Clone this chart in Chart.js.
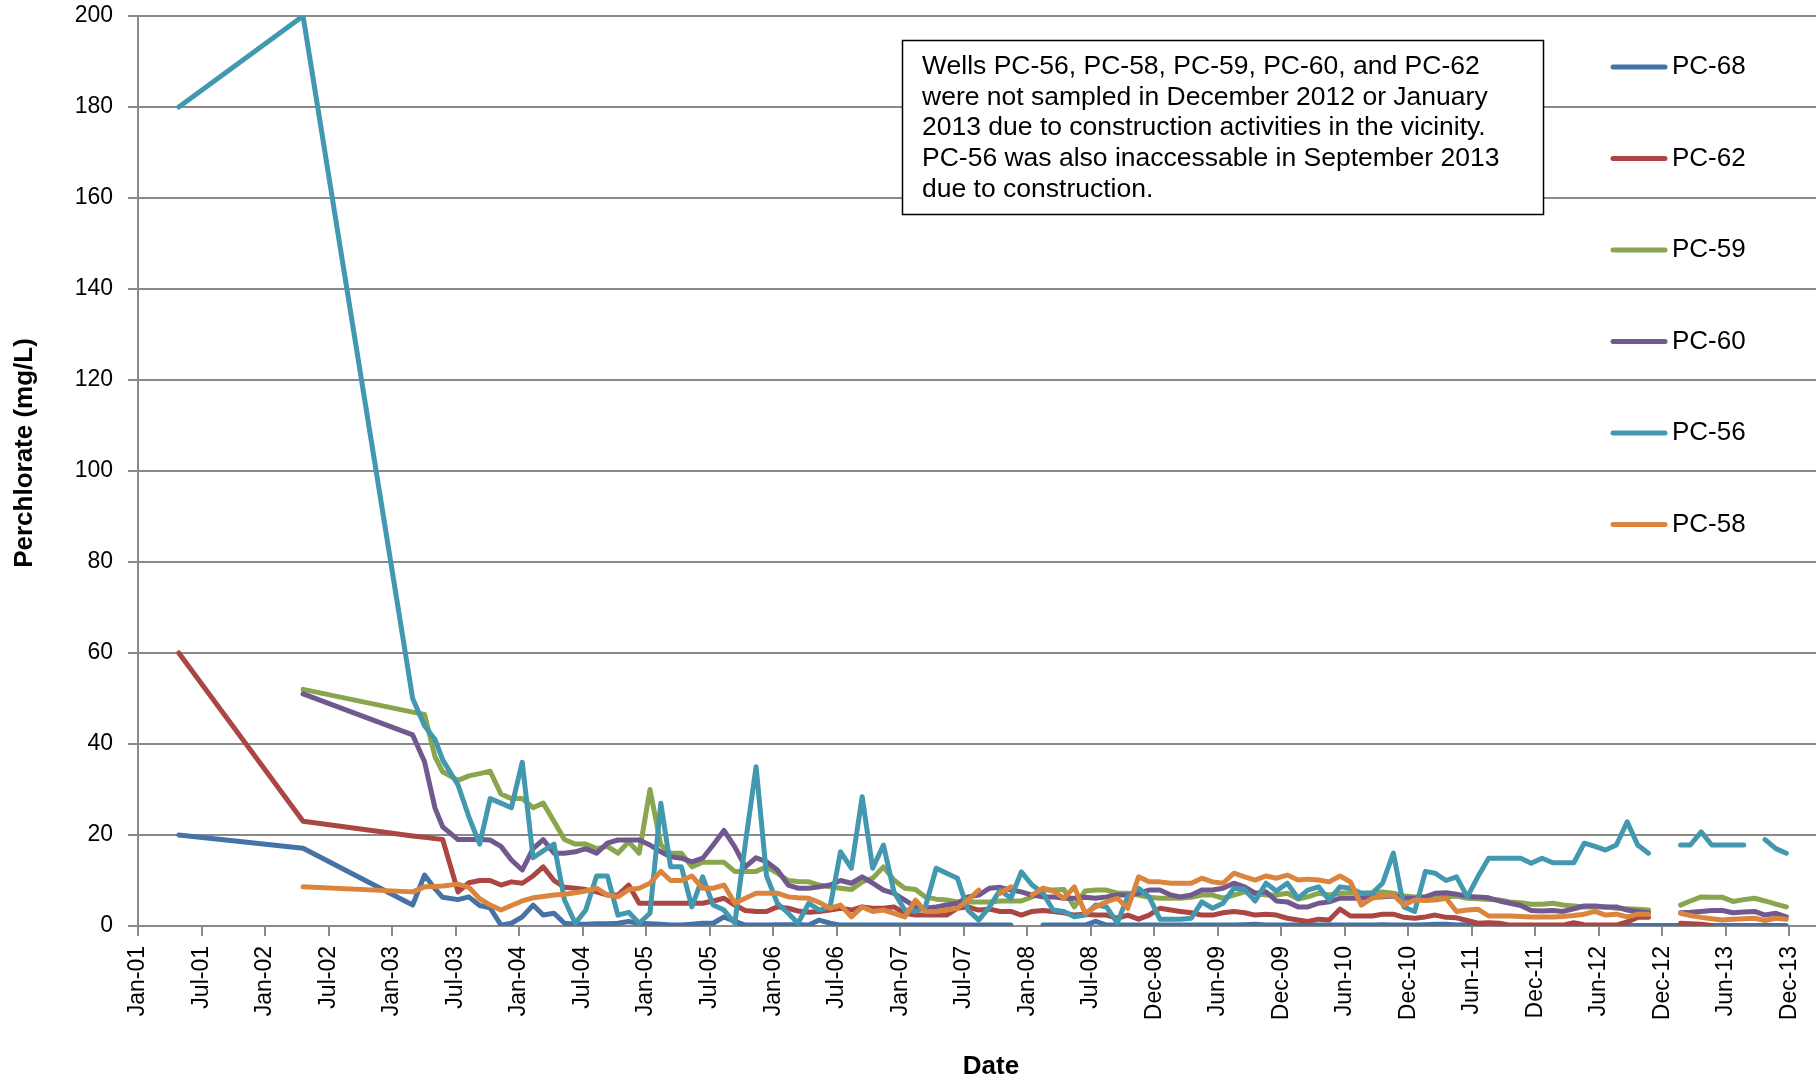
<!DOCTYPE html>
<html>
<head>
<meta charset="utf-8">
<title>Perchlorate concentrations</title>
<script src="https://cdn.jsdelivr.net/npm/chart.js@4.4.1/dist/chart.umd.min.js"></script>
<style>
  html, body { margin: 0; padding: 0; background: #fff; }
  #wrap { width: 1816px; height: 1083px; }
</style>
</head>
<body>
<div id="wrap"><canvas id="chart" width="1816" height="1083"></canvas></div>
<script>
const wells = ["PC-68", "PC-62", "PC-59", "PC-60", "PC-56", "PC-58"];
const wellColors = ["#4572A7", "#AA4643", "#89A54E", "#71588F", "#4198AF", "#DB843D"];

// sample dates: a few early samples, then monthly (YYYY-MM = mid month)
const sampleDates = [
  "2001-05-06", "2002-04-27", "2003-03-07", "2003-04-10", "2003-05-10", "2003-06-01",
  "2003-07", "2003-08", "2003-09", "2003-10", "2003-11", "2003-12",
  "2004-01", "2004-02", "2004-03", "2004-04", "2004-05", "2004-06", "2004-07", "2004-08", "2004-09", "2004-10", "2004-11", "2004-12",
  "2005-01", "2005-02", "2005-03", "2005-04", "2005-05", "2005-06", "2005-07", "2005-08", "2005-09", "2005-10", "2005-11", "2005-12",
  "2006-01", "2006-02", "2006-03", "2006-04", "2006-05", "2006-06", "2006-07", "2006-08", "2006-09", "2006-10", "2006-11", "2006-12",
  "2007-01", "2007-02", "2007-03", "2007-04", "2007-05", "2007-06", "2007-07", "2007-08", "2007-09", "2007-10", "2007-11", "2007-12",
  "2008-01", "2008-02", "2008-03", "2008-04", "2008-05", "2008-06", "2008-07", "2008-08", "2008-09", "2008-10", "2008-11", "2008-12",
  "2009-01", "2009-02", "2009-03", "2009-04", "2009-05", "2009-06", "2009-07", "2009-08", "2009-09", "2009-10", "2009-11", "2009-12",
  "2010-01", "2010-02", "2010-03", "2010-04", "2010-05", "2010-06", "2010-07", "2010-08", "2010-09", "2010-10", "2010-11", "2010-12",
  "2011-01", "2011-02", "2011-03", "2011-04", "2011-05", "2011-06", "2011-07", "2011-08", "2011-09", "2011-10", "2011-11", "2011-12",
  "2012-01", "2012-02", "2012-03", "2012-04", "2012-05", "2012-06", "2012-07", "2012-08", "2012-09", "2012-10", "2012-11", "2012-12",
  "2013-01", "2013-02", "2013-03", "2013-04", "2013-05", "2013-06", "2013-07", "2013-08", "2013-09", "2013-10", "2013-11", "2013-12"
];

// values in mg/L, one per sample date (null = not sampled)
// rows after the early samples run Jul..Jun
const pc68 = [
  20, 17.1, 4.6, 11.2, 8.2, 6.3,
  5.8, 6.4, 4.5, 4, 0.2, 0.6, 2, 4.6, 2.4, 2.8, 0.6, 0.4,
  0.4, 0.5, 0.5, 0.6, 1, 0.6, 0.5, 0.4, 0.2, 0.2, 0.4, 0.6,
  0.6, 2, 1, 0.2, 0.2, 0.2, 0.3, 0.3, 0.3, 0.2, 1.3, 0.6,
  0.2, 0.2, 0.2, 0.2, 0.2, 0.2, 0.2, 0.2, 0.2, 0.2, 0.2, 0.2,
  0.2, 0.2, 0.2, 0.2, 0.2, null, null, 0.2, 0.2, 0.2, 0.2, 0.2,
  1, 0.2, 0.2, 0.2, 0.2, 0.2, 0.2, 0.2, 0.2, 0.2, 0.2, 0.2,
  0.2, 0.2, 0.3, 0.4, 0.2, 0.2, 0.2, 0.2, 0.2, 0.2, 0.2, 0.2,
  0.2, 0.2, 0.2, 0.3, 0.2, 0.2, 0.2, 0.3, 0.4, 0.4, 0.2, 0.3,
  0.3, 0.2, 0.1, 0.1, 0.1, 0.1, 0.1, 0.1, 0.1, 0.1, 0.1, 0.1,
  0.1, 0.1, 0.1, 0.1, 0.1, 0.1, 0.1, 0.1, 0.1, 0.1, 0.1, 0.1,
  0.1, 0.1, 0.1, 0.1, 0.1, 0.1
];
const pc62 = [
  60, 23, 19.8, 19.5, 19.2, 19,
  7.5, 9.5, 10, 10, 9, 9.7, 9.4, 11, 13, 10, 8.5, 8.3,
  8, 7.5, 6.8, 6.8, 9, 5, 5, 5, 5, 5, 5, 5,
  5.5, 6.1, 4.6, 3.4, 3.2, 3.2, 4.2, 3.9, 3.3, 3, 3.2, 3.5,
  3.9, 3.5, 4.2, 3.9, 3.9, 4.2, 2.8, 2.4, 2.4, 2.4, 2.4, 3.9,
  4.2, 3.5, 3.7, 3.2, 3.2, 2.4, 3.2, 3.4, 3.2, 2.9, 2.4, 2.6,
  2.4, 2.4, 1.7, 2.4, 1.5, 2.4, 3.9, 3.5, 3.2, 2.9, 2.4, 2.4,
  2.9, 3.2, 2.9, 2.4, 2.6, 2.4, 1.7, 1.3, 1, 1.5, 1.3, 3.7,
  2.2, 2.2, 2.2, 2.6, 2.6, 1.9, 1.7, 2, 2.4, 1.9, 1.8, 1.2,
  0.6, 0.7, 0.6, 0.2, 0.2, 0.2, 0.2, 0.2, 0.2, 0.7, 0.3, 0.2,
  0.2, 0.2, 0.9, 1.9, 1.9, null, null, 0.6, 0.5, 0.4, 0.1, null,
  null, null, null, null, null, null
];
const pc59 = [
  null, 52, 47, 46.5, 37.2, 33.9,
  32, 33, 33.5, 34, 29, 28, 28, 26, 27, 23, 19, 18,
  18, 17, 17.5, 16, 18.5, 16, 30, 17.8, 16, 16, 13, 14,
  14, 14, 12, 12, 12, 13, 11.6, 10, 9.8, 9.7, 9, 8.6,
  8.3, 8, 9.7, 10.5, 13, 10.1, 8.3, 8, 6.4, 5.9, 5.7, 5.3,
  5.3, 5.3, 5.3, 5.5, 5.5, 5.5, 6.4, 7.9, 7.9, 8, 4.2, 7.7,
  7.9, 7.9, 7.2, 7.2, 6.8, 6.3, 6.1, 6.1, 6.1, 6.3, 6.8, 6.8,
  6.1, 6.8, 7.5, 7.2, 6.8, 6.8, 7.2, 5.9, 6.4, 7.2, 6.8, 7.2,
  7.3, 7.2, 7.3, 7.5, 7.2, 6.6, 6.4, 6.4, 6.8, 6.4, 6.6, 6.1,
  6, 5.8, 5.7, 5.3, 5.1, 4.8, 4.8, 5, 4.6, 4.4, 4.2, 4.2,
  4.2, 3.9, 3.8, 3.7, 3.5, null, null, 4.6, 5.5, 6.4, 6.3, 6.3,
  5.4, 5.8, 6.1, 5.5, 4.8, 4.2
];
const pc60 = [
  null, 51, 42, 36.1, 25.9, 21.8,
  19, 19, 19, 18.9, 17.5, 14.5, 12.3, 17, 19, 16, 16, 16.3,
  17, 16, 18.2, 18.9, 18.9, 18.9, 17.8, 16.3, 15.2, 14.9, 14.1, 14.9,
  17.8, 21, 17.4, 13, 15, 14.1, 12.3, 9, 8.3, 8.3, 8.6, 9,
  10, 9.4, 10.8, 9.4, 7.9, 7.2, 5.7, 4.2, 3.9, 4.2, 4.6, 5,
  6.4, 6.8, 8.3, 8.5, 7.9, 7.5, 6.8, 6.4, 6.4, 6.1, 6.1, 6.3,
  6.1, 6.4, 6.8, 6.8, 7.2, 7.9, 7.9, 6.8, 6.4, 6.8, 7.9, 7.9,
  8.3, 9.4, 8.6, 7.2, 7.5, 5.5, 5.3, 4.2, 4.2, 5, 5.3, 6.1,
  6.1, 6.1, 6.4, 6.4, 6.6, 6.1, 6.1, 6.4, 7.2, 7.3, 7, 6.5,
  6.4, 6.2, 5.5, 5, 4.5, 3.4, 3.3, 3.4, 3.2, 3.8, 4.4, 4.4,
  4.2, 4.2, 3.5, 3.2, 2.9, null, null, 2.9, 3, 3.2, 3.4, 3.4,
  2.9, 3.1, 3.2, 2.4, 2.8, 2
];
const pc56 = [
  180, 200, 50, 44, 41, 36.5,
  31, 24, 18, 28, 27, 26, 36, 15, 16.5, 18, 5.7, 0.6,
  3.5, 11, 11, 2.4, 3, 0.6, 2.8, 27, 13, 13, 4.2, 10.8,
  4.6, 3.5, 0.6, 18, 35, 11, 5, 2.8, 0.6, 5, 3.5, 4.2,
  16.3, 12.7, 28.4, 12.7, 17.8, 7.5, 3.5, 3.2, 4.2, 12.7, 11.6, 10.5,
  3.5, 1.3, 4.2, 7.9, 6.1, 11.9, 9, 7.2, 3.5, 3.2, 2, 2.4,
  4.6, 4.2, 0.7, 6.5, 8.3, 6.4, 1.5, 1.5, 1.5, 1.7, 5.3, 3.9,
  5, 8.3, 8, 5.5, 9.4, 7.7, 9.4, 6.1, 7.9, 8.6, 5.7, 8.6,
  8.3, 7.2, 7.2, 9.4, 16, 4.2, 3.2, 12, 11.6, 10, 10.8, 6.4,
  10.8, 14.9, 14.9, 14.9, 14.9, 13.8, 14.9, 13.9, 13.9, 13.9, 18.2, 17.5,
  16.7, 17.8, 22.9, 17.8, 16, null, null, 17.8, 17.8, 20.7, 17.8, 17.8,
  17.8, 17.8, null, 19, 17, 16
];
const pc58 = [
  null, 8.6, 7.5, 8.6, 8.7, 8.8,
  9.2, 8.5, 6, 4.6, 3.5, 4.5, 5.5, 6.2, 6.5, 6.8, 7, 7.3,
  7.7, 8.3, 6.8, 6.4, 8, 8.3, 9.4, 12, 10, 10, 11, 8.3,
  8.3, 9, 5, 6.1, 7.2, 7.2, 7.2, 6.4, 6.2, 6.1, 5.2, 3.9,
  4.6, 2, 4.2, 3.2, 3.5, 2.8, 2, 5.7, 3.2, 3.2, 3.5, 3.9,
  5.7, 7.9, null, 7.2, 8.6, null, 6.8, 8.3, 7.7, 6.1, 8.6, 2.8,
  4.2, 5.3, 6.1, 3.9, 10.8, 9.7, 9.7, 9.4, 9.4, 9.4, 10.5, 9.7,
  9.4, 11.6, 10.8, 10.1, 11, 10.5, 11.2, 10.1, 10.3, 10.1, 9.7, 11,
  9.7, 4.6, 6.1, 6.6, 6.8, 4.6, 5.7, 5.6, 5.7, 6.1, 3.2, 3.5,
  3.7, 2.2, 2.2, 2.2, 2.1, 2, 2, 2, 2.1, 2.3, 2.6, 3.2,
  2.4, 2.6, 2, 2.6, 2.6, null, null, 2.8, 2.3, 1.9, 1.6, 1.3,
  1.5, 1.6, 1.7, 1.2, 1.7, 1.5
];

const tickLabels = [
  "Jan-01", "Jul-01", "Jan-02", "Jul-02", "Jan-03", "Jul-03", "Jan-04", "Jul-04", "Jan-05",
  "Jul-05", "Jan-06", "Jul-06", "Jan-07", "Jul-07", "Jan-08", "Jul-08", "Dec-08", "Jun-09",
  "Dec-09", "Jun-10", "Dec-10", "Jun-11", "Dec-11", "Jun-12", "Dec-12", "Jun-13", "Dec-13"
];

const noteLines = [
  "Wells PC-56, PC-58, PC-59, PC-60, and PC-62",
  "were not sampled in December 2012 or January",
  "2013 due to construction activities in the vicinity.",
  "PC-56 was also inaccessable in September 2013",
  "due to construction."
];

// x axis runs in days from the first tick (9 Jan 2001), ticks every 182 days
const AXIS_START = Date.UTC(2001, 0, 9);
const DAY_MS = 86400000;
const TICK_STEP = 182;
const AXIS_END = 4808;
const FONT = '"Liberation Sans", Arial, sans-serif';
const GRID = '#898989';

function toDay(s) {
  const [y, m, d] = s.split("-").map(Number);
  return (Date.UTC(y, m - 1, d || 15) - AXIS_START) / DAY_MS;
}

const xDays = sampleDates.map(toDay);
const seriesValues = [pc68, pc62, pc59, pc60, pc56, pc58];

// axis titles, text box and legend are placed like the original sheet
const overlay = {
  id: 'overlay',
  afterDraw(chart) {
    const ctx = chart.ctx;
    ctx.save();
    ctx.fillStyle = '#000';
    ctx.textAlign = 'center';
    ctx.textBaseline = 'middle';
    ctx.font = 'bold 26px ' + FONT;
    ctx.fillText('Date', 991, 1067);
    ctx.save();
    ctx.translate(25, 453);
    ctx.rotate(-Math.PI / 2);
    ctx.fillText('Perchlorate (mg/L)', 0, 0);
    ctx.restore();

    ctx.textAlign = 'left';
    ctx.fillStyle = '#fff';
    ctx.fillRect(902, 40, 642, 175);
    ctx.strokeStyle = '#000';
    ctx.lineWidth = 1.5;
    ctx.strokeRect(902.5, 40.5, 641, 174);
    ctx.fillStyle = '#000';
    ctx.font = '26.5px ' + FONT;
    noteLines.forEach((t, i) => ctx.fillText(t, 922, 66.5 + i * 30.7));

    ctx.font = '26px ' + FONT;
    chart.data.datasets.forEach((ds, i) => {
      const y = 67 + i * 91.5;
      ctx.strokeStyle = ds.borderColor;
      ctx.lineWidth = 5;
      ctx.lineCap = 'round';
      ctx.beginPath();
      ctx.moveTo(1613, y);
      ctx.lineTo(1665, y);
      ctx.stroke();
      ctx.fillStyle = '#000';
      ctx.fillText(ds.label, 1672, y);
    });
    ctx.restore();
  }
};

const ctx = document.getElementById('chart').getContext('2d');
new Chart(ctx, {
  type: 'line',
  data: {
    datasets: wells.map((name, i) => ({
      label: name,
      data: xDays.map((x, j) => ({ x: x, y: seriesValues[i][j] })),
      borderColor: wellColors[i],
      backgroundColor: wellColors[i],
      borderWidth: 5,
      borderJoinStyle: 'round',
      borderCapStyle: 'round',
      pointRadius: 0,
      tension: 0,
      spanGaps: false,
      order: wells.length - i   // later wells drawn on top, as in Excel
    }))
  },
  options: {
    responsive: false,
    animation: false,
    layout: { padding: { top: 16, left: 0, right: 0, bottom: 0 } },
    plugins: {
      legend: { display: false },
      tooltip: { enabled: false }
    },
    scales: {
      x: {
        type: 'linear',
        min: 0,
        max: AXIS_END,
        afterBuildTicks: axis => {
          axis.ticks = tickLabels.map((_, i) => ({ value: i * TICK_STEP }));
        },
        afterFit: axis => {
          axis.height = 157;
          axis.paddingLeft = 0;
          axis.paddingRight = 0;
        },
        grid: { drawOnChartArea: false, color: GRID, lineWidth: 2, tickLength: 10 },
        border: { color: GRID, width: 2 },
        ticks: {
          autoSkip: false,
          minRotation: 90,
          maxRotation: 90,
          padding: 10,
          color: '#000',
          font: { family: FONT, size: 23 },
          callback: (v, i) => tickLabels[i]
        }
      },
      y: {
        min: 0,
        max: 200,
        afterFit: axis => {
          axis.width = 138;
          axis.paddingTop = 0;
          axis.paddingBottom = 0;
        },
        grid: { color: GRID, lineWidth: 2, tickLength: 10 },
        border: { color: GRID, width: 2 },
        ticks: {
          stepSize: 20,
          padding: 15,
          color: '#000',
          font: { family: FONT, size: 23 }
        }
      }
    }
  },
  plugins: [overlay]
});
</script>
</body>
</html>
